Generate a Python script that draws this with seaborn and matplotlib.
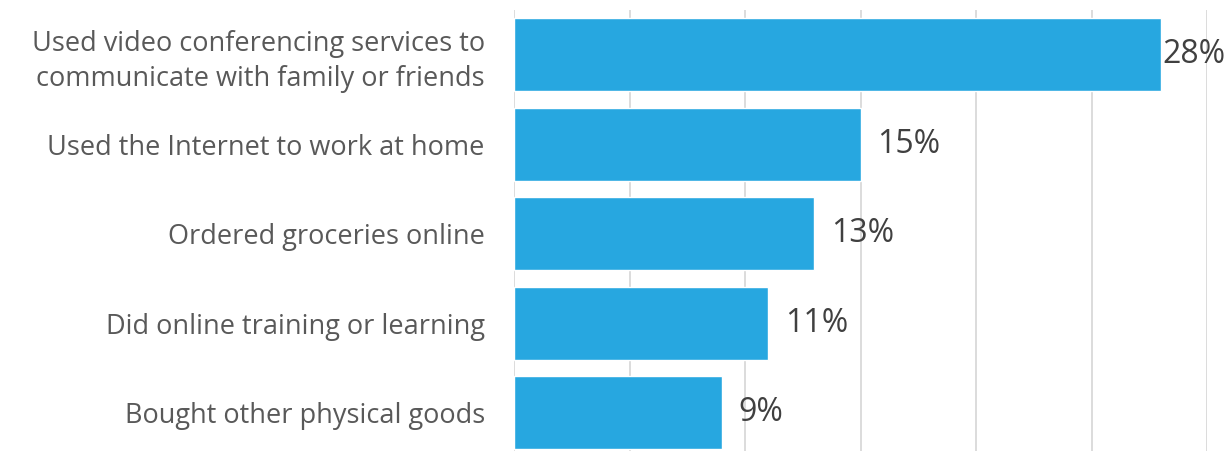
import matplotlib
matplotlib.use("Agg")
import matplotlib.pyplot as plt
import seaborn as sns
import pandas as pd

activities = [
    "Used video conferencing services to\ncommunicate with family or friends",
    "Used the Internet to work at home",
    "Ordered groceries online",
    "Did online training or learning",
    "Bought other physical goods",
]
shares = [28, 15, 13, 11, 9]

df = pd.DataFrame({"activity": activities, "share": shares})

sns.set_theme(style="white")
plt.rcParams["font.family"] = ["Open Sans", "DejaVu Sans"]

W, H, DPI = 1229, 451, 100
fig = plt.figure(figsize=(W / DPI, H / DPI), dpi=DPI)
left_px, right_px, top_px = 514, 1207, 10
ax = fig.add_axes([left_px / W, 0, (right_px - left_px) / W, (H - top_px) / H])

bar_color = "#27A7E0"
sns.barplot(data=df, x="share", y="activity", orient="h", color=bar_color,
            width=0.815, saturation=1, ax=ax)

ax.set_xlim(0, 30)
ax.set_ylim(4.425, -0.5)
ax.set_xticks([0, 5, 10, 15, 20, 25, 30])
ax.xaxis.grid(True, color="#D9D9D9", linewidth=1.3)
ax.set_axisbelow(True)
for s in ax.spines.values():
    s.set_visible(False)
ax.tick_params(axis="x", bottom=False, labelbottom=False)
ax.tick_params(axis="y", left=False, pad=15, labelsize=19.5, labelcolor="#595959")
for lbl in ax.get_yticklabels():
    lbl.set_multialignment("right")
    lbl.set_linespacing(1.3)
ax.set_xlabel("")
ax.set_ylabel("")

for i, v in enumerate(shares):
    off = 12 if v < 25 else 1
    ax.annotate(f"{v}%", xy=(v, i), xytext=(off, 0), textcoords="offset points",
                va="center", ha="left", fontsize=23, color="#404040",
                annotation_clip=False)

fig.savefig("out.png", dpi=DPI)
